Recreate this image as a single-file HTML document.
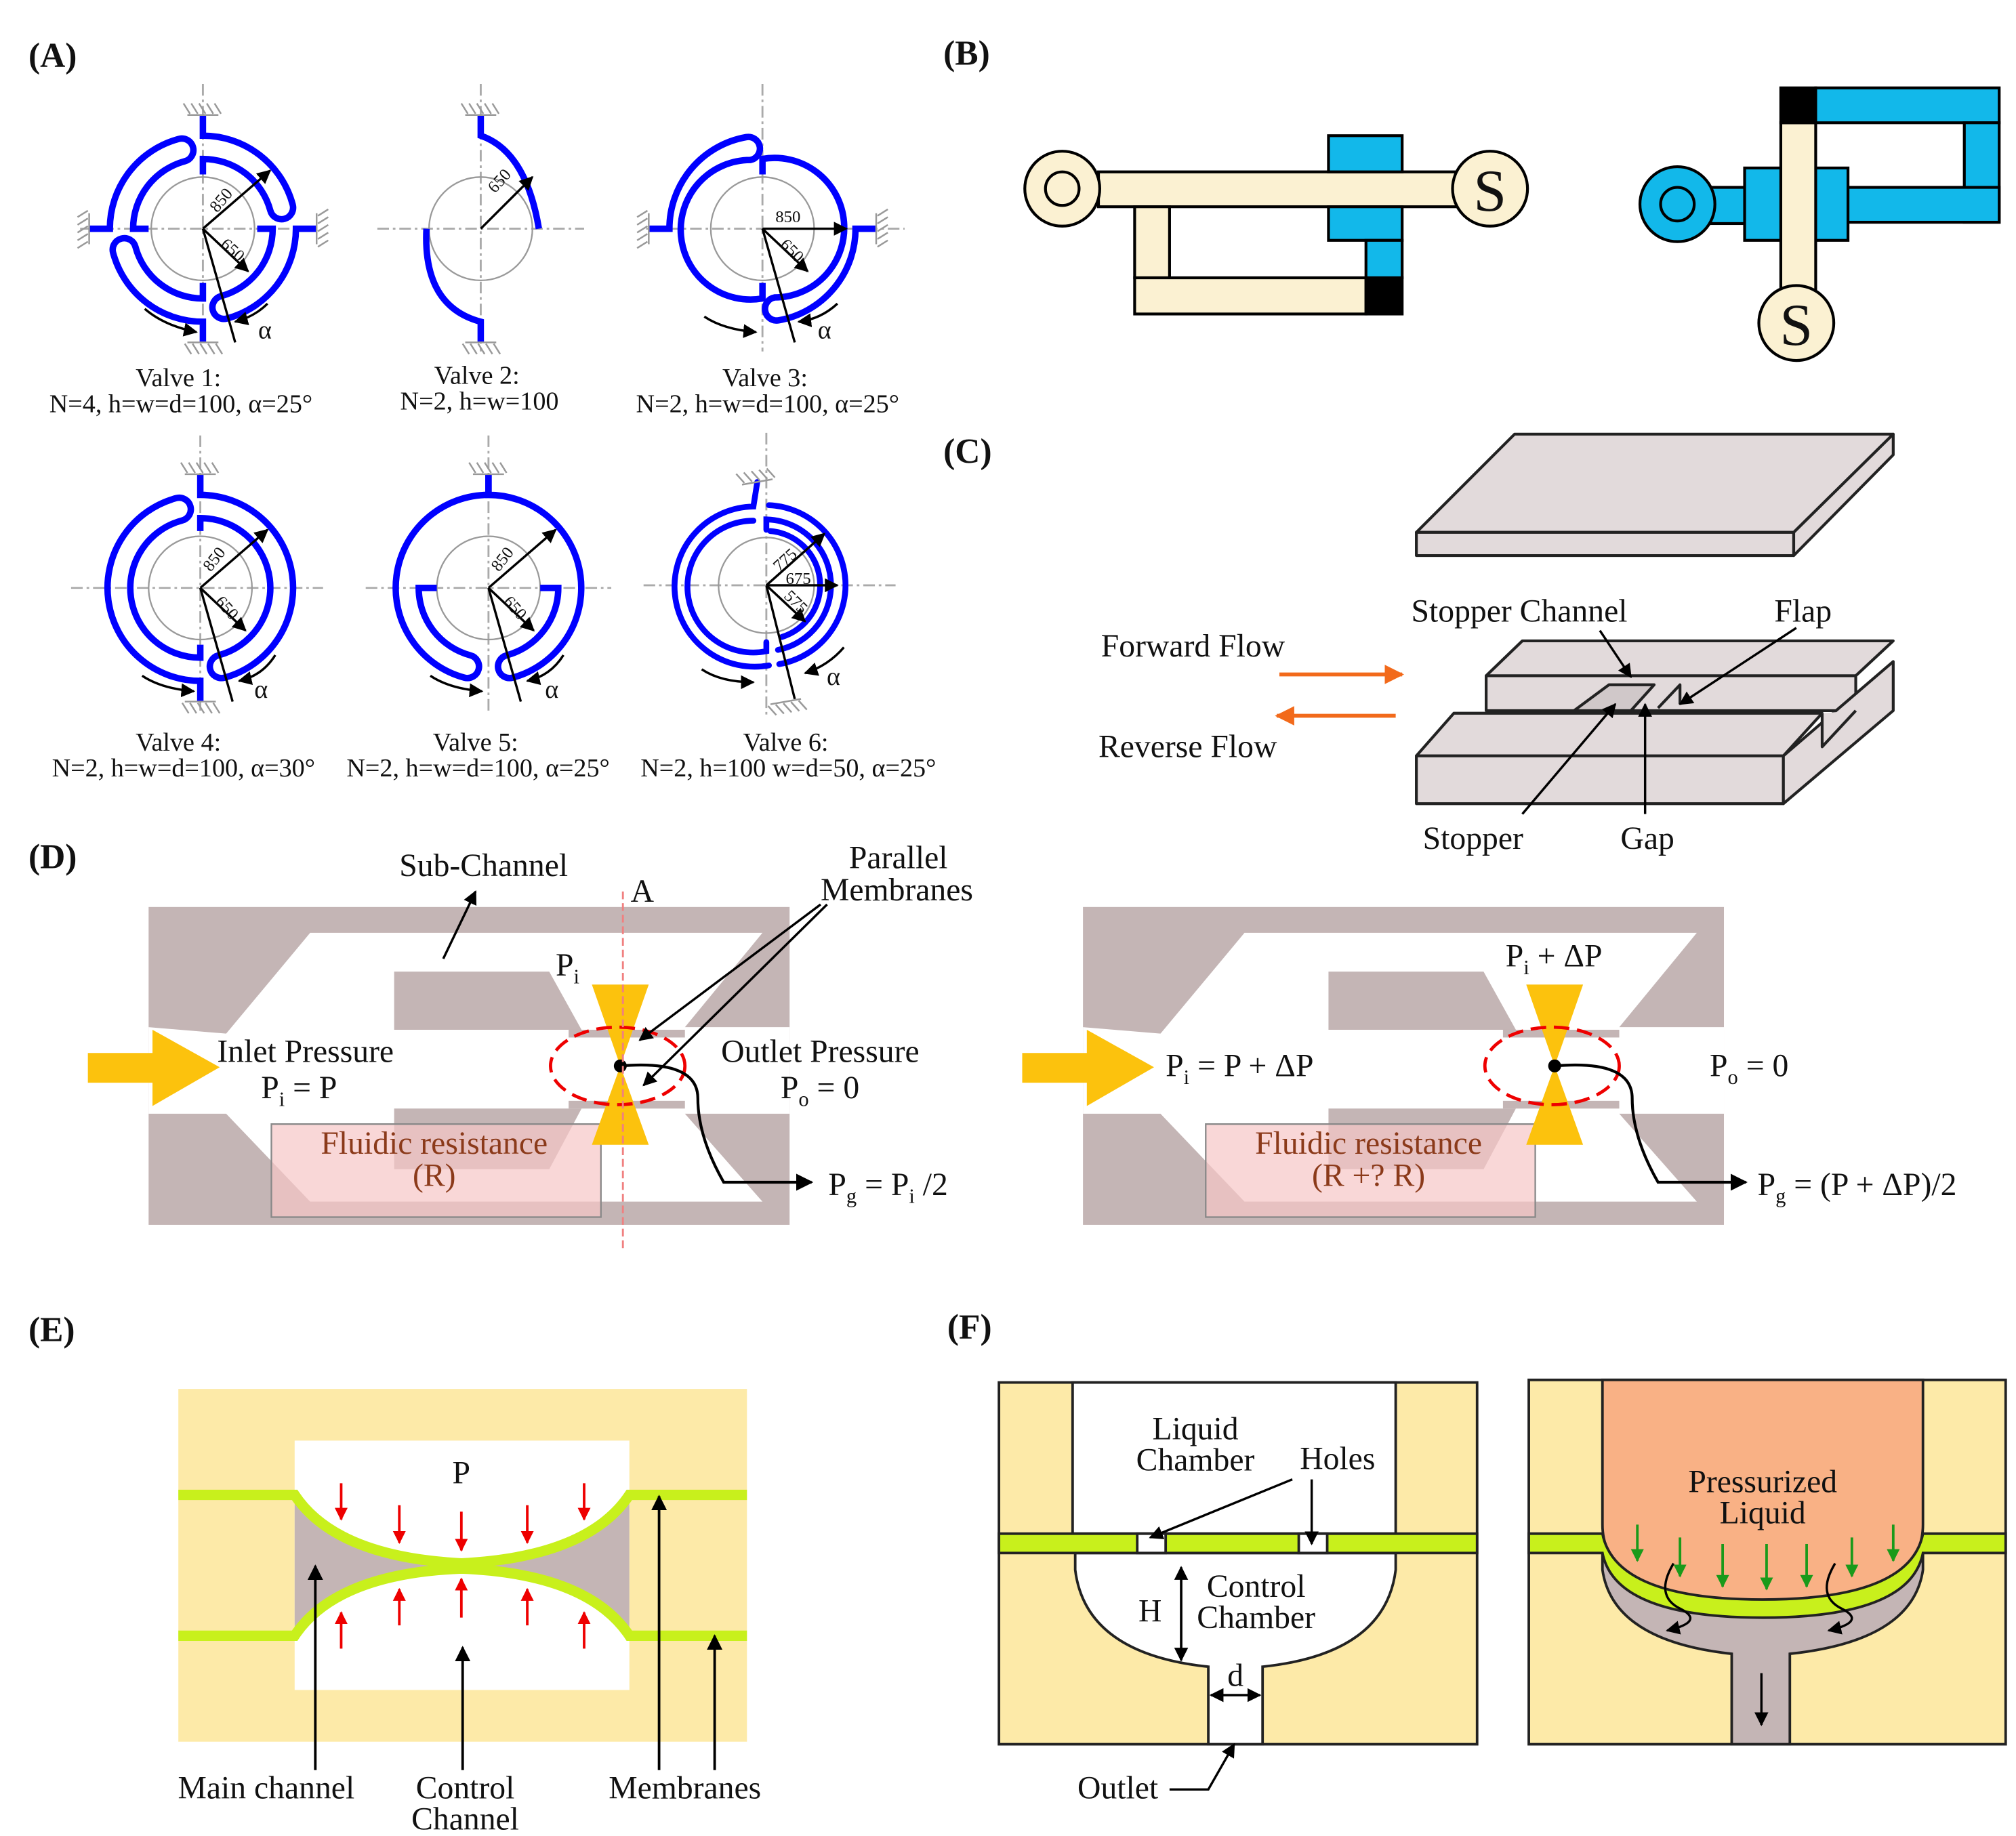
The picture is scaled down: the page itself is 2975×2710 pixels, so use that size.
<!DOCTYPE html>
<html><head><meta charset="utf-8"><style>
html,body{margin:0;padding:0;background:#fff}
svg{display:block}
text{font-family:"Liberation Serif",serif;fill:#111}
</style></head><body>
<svg width="2975" height="2710" viewBox="0 0 1560 1421" xmlns="http://www.w3.org/2000/svg">
<defs>
<marker id="ah" viewBox="0 0 10 10" refX="9" refY="5" markerWidth="6" markerHeight="6" orient="auto"><path d="M0,0L10,5L0,10z" fill="#000"/></marker>
<marker id="ahr" viewBox="0 0 10 10" refX="9" refY="5" markerWidth="5" markerHeight="5" orient="auto"><path d="M0,0L10,5L0,10z" fill="#e00"/></marker>
<marker id="ahg" viewBox="0 0 10 10" refX="9" refY="5" markerWidth="5" markerHeight="5" orient="auto"><path d="M0,0L10,5L0,10z" fill="#1a9a1a"/></marker>
<marker id="aho" viewBox="0 0 10 10" refX="9" refY="5" markerWidth="5" markerHeight="5" orient="auto"><path d="M0,0L10,5L0,10z" fill="#f26a1b"/></marker>
<g id="hatch" stroke="#999" stroke-width="1.3" fill="none"><path d="M-12,0H12M-10,-1l-5,-8M-4,-1l-5,-8M2,-1l-5,-8M8,-1l-5,-8M14,-1l-5,-8"/></g>
</defs>
<g font-size="27" font-weight="bold">
<text x="22" y="52">(A)</text><text x="730" y="50">(B)</text><text x="730" y="358">(C)</text>
<text x="22" y="672">(D)</text><text x="22" y="1038">(E)</text><text x="733" y="1036">(F)</text>
</g>

<!-- Panel A valves -->
<g fill="none">
<!-- Valve 1 -->
<g transform="translate(157,177)">
<path d="M-95,0H85M0,-112V88" stroke="#aaa" stroke-dasharray="9,3,2,3" stroke-width="1.5"/>
<circle r="40" stroke="#999" stroke-width="1.2"/>
<g stroke="#00f" stroke-width="5">
<g id="v1p"><path d="M0,-88V-72A72,72 0 0 1 69.5,-18.6A8.7,8.7 0 0 1 52.2,-14A54,54 0 0 0 0,-54V-42"/></g>
<use href="#v1p" transform="rotate(90)"/><use href="#v1p" transform="rotate(180)"/><use href="#v1p" transform="rotate(270)"/>
</g>
<use href="#hatch" transform="translate(0,-88)"/><use href="#hatch" transform="rotate(90) translate(0,-88)"/><use href="#hatch" transform="rotate(180) translate(0,-88)"/><use href="#hatch" transform="rotate(270) translate(0,-88)"/>
<g stroke="#000" stroke-width="1.8"><path d="M0,0L52,-45" marker-end="url(#ah)"/><path d="M0,0L35,33" marker-end="url(#ah)"/><path d="M0,0L25,88"/><path d="M-45,62Q-30,75 -5,80" marker-end="url(#ah)"/><path d="M50,58Q40,68 25,72" marker-end="url(#ah)"/></g>
</g>
<!-- Valve 2 -->
<g transform="translate(372,177)">
<path d="M-80,0H80M0,-112V95" stroke="#aaa" stroke-dasharray="9,3,2,3" stroke-width="1.5"/>
<circle r="40" stroke="#999" stroke-width="1.2"/>
<g stroke="#00f" stroke-width="5"><path d="M0,-88V-72Q35,-60 45,0"/><path d="M0,88V72Q-45,60 -42,0"/></g>
<use href="#hatch" transform="translate(0,-88)"/><use href="#hatch" transform="rotate(180) translate(0,-88)"/>
<path d="M0,0L40,-40" stroke="#000" stroke-width="1.8" marker-end="url(#ah)"/>
</g>
<!-- Valve 3 -->
<g transform="translate(590,177)">
<path d="M-90,0H110M0,-112V95" stroke="#aaa" stroke-dasharray="9,3,2,3" stroke-width="1.5"/>
<circle r="40" stroke="#999" stroke-width="1.2"/>
<g stroke="#00f" stroke-width="5">
<g id="v3p"><path d="M-88,0H-72A72,72 0 0 1 -12.5,-70.9A8.7,8.7 0 0 1 -9.4,-53.2A54,54 0 1 0 0,54V42"/></g>
<use href="#v3p" transform="rotate(180)"/>
</g>
<use href="#hatch" transform="rotate(-90) translate(0,-88)"/><use href="#hatch" transform="rotate(90) translate(0,-88)"/>
<g stroke="#000" stroke-width="1.8"><path d="M0,0H65" marker-end="url(#ah)"/><path d="M0,0L35,33" marker-end="url(#ah)"/><path d="M0,0L25,88"/><path d="M-45,68Q-30,78 -5,80" marker-end="url(#ah)"/><path d="M58,58Q45,70 28,72" marker-end="url(#ah)"/></g>
</g>
<!-- Valve 4 -->
<g transform="translate(155,455)">
<path d="M-100,0H95M0,-118V95" stroke="#aaa" stroke-dasharray="9,3,2,3" stroke-width="1.5"/>
<circle r="40" stroke="#999" stroke-width="1.2"/>
<g stroke="#00f" stroke-width="5"><g id="v4p"><path d="M0,-88V-72A72,72 0 0 1 18.6,69.5A8.7,8.7 0 0 1 14,52.2A54,54 0 0 0 0,-54V-44"/></g><use href="#v4p" transform="rotate(180)"/></g>
<use href="#hatch" transform="translate(0,-88)"/><use href="#hatch" transform="rotate(180) translate(0,-88)"/>
<g stroke="#000" stroke-width="1.8"><path d="M0,0L52,-45" marker-end="url(#ah)"/><path d="M0,0L35,33" marker-end="url(#ah)"/><path d="M0,0L25,88"/><path d="M-45,68Q-30,78 -5,80" marker-end="url(#ah)"/><path d="M58,52Q48,68 30,72" marker-end="url(#ah)"/></g>
</g>
<!-- Valve 5 -->
<g transform="translate(378,455)">
<path d="M-95,0H95M0,-118V95" stroke="#aaa" stroke-dasharray="9,3,2,3" stroke-width="1.5"/>
<circle r="40" stroke="#999" stroke-width="1.2"/>
<g stroke="#00f" stroke-width="5"><g id="v5p"><path d="M0,-88V-72A72,72 0 0 1 18.6,69.5A8.7,8.7 0 0 1 14,52.2A54,54 0 0 0 54,0H40"/></g><use href="#v5p" transform="scale(-1,1)"/></g>
<use href="#hatch" transform="translate(0,-88)"/>
<g stroke="#000" stroke-width="1.8"><path d="M0,0L52,-45" marker-end="url(#ah)"/><path d="M0,0L35,33" marker-end="url(#ah)"/><path d="M0,0L25,88"/><path d="M-45,68Q-30,78 -5,80" marker-end="url(#ah)"/><path d="M58,52Q48,68 30,72" marker-end="url(#ah)"/></g>
</g>
<!-- Valve 6 -->
<g transform="translate(593,453)">
<path d="M-95,0H100M0,-118V100" stroke="#aaa" stroke-dasharray="9,3,2,3" stroke-width="1.5"/>
<circle r="37" stroke="#999" stroke-width="1.2"/>
<g stroke="#00f" stroke-width="4.5" stroke-linecap="round"><path d="M-7,-80L-10,-61A62,62 0 1 0 2,62"/><path d="M-10,-50A51,51 0 1 0 0,51V44"/><path d="M2,-62A62,62 0 0 1 10,61"/><path d="M0,-43V-51A51,51 0 0 1 9,50"/><path d="M3,-42A42,42 0 0 1 12,40"/></g>
<use href="#hatch" transform="translate(-7,-80) rotate(-10)"/><use href="#hatch" transform="translate(15,90) rotate(170)"/>
<g stroke="#000" stroke-width="1.8"><path d="M0,0L45,-40" marker-end="url(#ah)"/><path d="M0,0H55" marker-end="url(#ah)"/><path d="M0,0L30,28" marker-end="url(#ah)"/><path d="M0,0L22,88"/><path d="M-50,65Q-35,75 -10,75" marker-end="url(#ah)"/><path d="M60,48Q48,62 30,68" marker-end="url(#ah)"/></g>
</g>
</g>
<g font-size="13">
<text transform="translate(168,165) rotate(-50)">850</text><text transform="translate(170,190) rotate(42)">650</text>
<text transform="translate(383,150) rotate(-48)">650</text>
<text x="600" y="172">850</text><text transform="translate(603,190) rotate(45)">650</text>
<text transform="translate(163,443) rotate(-52)">850</text><text transform="translate(166,466) rotate(48)">650</text>
<text transform="translate(386,443) rotate(-52)">850</text><text transform="translate(389,466) rotate(48)">650</text>
<text transform="translate(603,443) rotate(-42)">775</text><text x="608" y="452">675</text><text transform="translate(606,462) rotate(45)">575</text>
</g>
<g font-size="20" text-anchor="middle">
<text x="138" y="299">Valve 1:</text><text x="140" y="319">N=4, h=w=d=100, α=25°</text>
<text x="369" y="297">Valve 2:</text><text x="371" y="317">N=2, h=w=100</text>
<text x="592" y="299">Valve 3:</text><text x="594" y="319">N=2, h=w=d=100, α=25°</text>
<text x="138" y="581">Valve 4:</text><text x="142" y="601">N=2, h=w=d=100, α=30°</text>
<text x="368" y="581">Valve 5:</text><text x="370" y="601">N=2, h=w=d=100, α=25°</text>
<text x="608" y="581">Valve 6:</text><text x="610" y="601">N=2, h=100 w=d=50, α=25°</text>
<text x="205" y="262">α</text><text x="638" y="262">α</text><text x="202" y="540">α</text><text x="427" y="540">α</text><text x="645" y="530">α</text>
</g>

<!-- Panel B -->
<g stroke="#000" stroke-width="2.2">
<rect x="850" y="133" width="278" height="27" fill="#fbf1d2"/>
<rect x="878" y="160" width="27" height="55" fill="#fbf1d2"/>
<rect x="878" y="215" width="179" height="28" fill="#fbf1d2"/>
<rect x="1028" y="105" width="57" height="28" fill="#12b8ea"/>
<rect x="1028" y="160" width="57" height="26" fill="#12b8ea"/>
<rect x="1057" y="186" width="28" height="29" fill="#12b8ea"/>
<rect x="1057" y="215" width="28" height="28" fill="#000"/>
<circle cx="822" cy="146" r="29" fill="#fbf1d2"/><circle cx="822" cy="146" r="13" fill="#fbf1d2"/>
<circle cx="1153" cy="146" r="29" fill="#fbf1d2"/>
<rect x="1318" y="145" width="34" height="28" fill="#12b8ea"/>
<circle cx="1298" cy="158" r="29" fill="#12b8ea"/><circle cx="1298" cy="158" r="13" fill="#12b8ea"/>
<rect x="1350" y="130" width="80" height="56" fill="#12b8ea"/>
<rect x="1405" y="68" width="142" height="27" fill="#12b8ea"/>
<rect x="1520" y="95" width="27" height="77" fill="#12b8ea"/>
<rect x="1430" y="145" width="117" height="27" fill="#12b8ea"/>
<rect x="1378" y="95" width="27" height="130" fill="#fbf1d2"/>
<rect x="1378" y="68" width="27" height="27" fill="#000"/>
<circle cx="1390" cy="250" r="29" fill="#fbf1d2"/>
</g>
<text x="1153" y="163" font-size="46" text-anchor="middle" font-family="Liberation Sans">S</text>
<text x="1390" y="267" font-size="46" text-anchor="middle" font-family="Liberation Sans">S</text>

<!-- Panel C -->
<g stroke="#222" stroke-width="2.2" fill="#e2dadb" stroke-linejoin="round">
<path d="M1096,412L1172,336H1465L1388,412Z"/>
<path d="M1096,412H1388V430H1096Z"/>
<path d="M1388,412L1465,336V352L1388,430Z"/>
<path d="M1150,523L1178,496H1465L1436,523Z"/>
<path d="M1150,523H1436V550H1150Z"/>
<path d="M1096,585L1125,552H1410L1380,585Z"/>
<path d="M1096,585H1380V622H1096Z"/>
<path d="M1380,585L1465,512V550L1380,622Z"/>
<path d="M1410,552V578L1436,550"/>
<path d="M1218,550L1245,530H1280L1262,550Z" fill="#d0c8c9"/>
<path d="M1283,548L1300,530V545" fill="none"/>
</g>
<g font-size="25">
<text x="1092" y="481">Stopper Channel</text><text x="1373" y="481">Flap</text>
<text x="852" y="508">Forward Flow</text><text x="850" y="586">Reverse Flow</text>
<text x="1101" y="657">Stopper</text><text x="1254" y="657">Gap</text>
</g>
<g stroke="#000" stroke-width="1.8">
<path d="M1238,488L1262,524" marker-end="url(#ah)"/>
<path d="M1390,486L1300,545" marker-end="url(#ah)"/>
<path d="M1178,630L1250,545" marker-end="url(#ah)"/>
<path d="M1273,630V545" marker-end="url(#ah)"/>
</g>
<g stroke="#f26a1b" stroke-width="3"><path d="M990,522H1085" marker-end="url(#aho)"/><path d="M1080,554H988" marker-end="url(#aho)"/></g>

<!-- Panel D -->
<g id="dpanel">
<rect x="115" y="702" width="496" height="246" fill="#c4b5b5"/>
<path d="M175,800L240,722H590L530,795H611V862H530L590,930H240L175,862H115V795Z" fill="#fff"/>
<path d="M305,752H425L450,797H305Z" fill="#c4b5b5"/>
<path d="M305,858H450L425,905H305Z" fill="#c4b5b5"/>
<rect x="440" y="797" width="90" height="6" fill="#c4b5b5"/>
<rect x="440" y="852" width="90" height="6" fill="#c4b5b5"/>
<rect x="210" y="870" width="255" height="72" fill="#f6c6c6" fill-opacity="0.7" stroke="#888" stroke-width="1.2"/>
<path d="M458,762H502L480,825Z M458,886H502L480,825Z" fill="#fcc20d"/>
<ellipse cx="478" cy="825" rx="52" ry="30" fill="none" stroke="#e00" stroke-width="2.5" stroke-dasharray="12,6"/>
<circle cx="480" cy="825" r="5" fill="#000"/>
<path d="M68,815H118V797L170,826L118,856V838H68Z" fill="#fcc20d"/>
<path d="M480,825Q540,820 540,850T560,915H628" fill="none" stroke="#000" stroke-width="2.2" marker-end="url(#ah)"/>
</g>
<path d="M482,690V968" stroke="#f08080" stroke-width="1.5" stroke-dasharray="6,3"/>
<use href="#dpanel" transform="translate(723,0)"/>
<g font-size="25">
<text x="309" y="678">Sub-Channel</text><text x="488" y="698">A</text>
<text x="657" y="672">Parallel</text><text x="635" y="697">Membranes</text>
<text x="430" y="755">P<tspan font-size="16" dy="6">i</tspan></text>
<text x="168" y="822">Inlet Pressure</text><text x="202" y="850">P<tspan font-size="16" dy="6">i</tspan><tspan dy="-6"> = P</tspan></text>
<text x="558" y="822">Outlet Pressure</text><text x="604" y="850">P<tspan font-size="16" dy="6">o</tspan><tspan dy="-6"> = 0</tspan></text>
<text x="641" y="925">P<tspan font-size="16" dy="6">g</tspan><tspan dy="-6"> = P</tspan><tspan font-size="16" dy="6">i</tspan><tspan dy="-6"> /2</tspan></text>
<text x="1165" y="748">P<tspan font-size="16" dy="6">i</tspan><tspan dy="-6"> + ΔP</tspan></text>
<text x="902" y="833">P<tspan font-size="16" dy="6">i</tspan><tspan dy="-6"> = P + ΔP</tspan></text>
<text x="1323" y="833">P<tspan font-size="16" dy="6">o</tspan><tspan dy="-6"> = 0</tspan></text>
<text x="1360" y="925">P<tspan font-size="16" dy="6">g</tspan><tspan dy="-6"> = (P + ΔP)/2</tspan></text>
</g>
<g font-size="25" text-anchor="middle">
<text x="336" y="893" style="fill:#8b3a1a">Fluidic resistance</text><text x="336" y="918" style="fill:#8b3a1a">(R)</text>
<text x="1059" y="893" style="fill:#8b3a1a">Fluidic resistance</text><text x="1059" y="918" style="fill:#8b3a1a">(R +? R)</text>
</g>
<g stroke="#000" stroke-width="1.8">
<path d="M343,742L368,690" marker-end="url(#ah)"/>
<path d="M635,700L495,805" marker-end="url(#ah)"/>
<path d="M640,700L498,840" marker-end="url(#ah)"/>
</g>

<!-- Panel E -->
<rect x="138" y="1075" width="440" height="273" fill="#fdeaa8"/>
<rect x="228" y="1115" width="259" height="193" fill="#fff"/>
<path d="M228,1157Q260,1205 357,1210Q455,1205 487,1157V1266Q455,1218 357,1214Q260,1218 228,1266Z" fill="#c4b5b5"/>
<g fill="none" stroke="#c8f01c" stroke-width="8">
<path d="M138,1157H228Q260,1205 357,1210Q455,1205 487,1157H578"/>
<path d="M138,1266H228Q260,1218 357,1214Q455,1218 487,1266H578"/>
</g>
<g stroke="#e00" stroke-width="2">
<path d="M264,1148V1176" marker-end="url(#ahr)"/><path d="M309,1165V1194" marker-end="url(#ahr)"/><path d="M357,1170V1200" marker-end="url(#ahr)"/><path d="M408,1165V1194" marker-end="url(#ahr)"/><path d="M452,1148V1176" marker-end="url(#ahr)"/>
<path d="M264,1276V1248" marker-end="url(#ahr)"/><path d="M309,1258V1230" marker-end="url(#ahr)"/><path d="M357,1252V1222" marker-end="url(#ahr)"/><path d="M408,1258V1230" marker-end="url(#ahr)"/><path d="M452,1276V1248" marker-end="url(#ahr)"/>
</g>
<g stroke="#000" stroke-width="2">
<path d="M244,1370V1212" marker-end="url(#ah)"/><path d="M358,1370V1275" marker-end="url(#ah)"/>
<path d="M510,1370V1158" marker-end="url(#ah)"/><path d="M553,1370V1266" marker-end="url(#ah)"/>
</g>
<g font-size="25" text-anchor="middle">
<text x="357" y="1148">P</text>
<text x="206" y="1392">Main channel</text><text x="360" y="1392">Control</text><text x="360" y="1416">Channel</text><text x="530" y="1392">Membranes</text>
</g>

<!-- Panel F -->
<g stroke="#222" stroke-width="2">
<rect x="773" y="1070" width="370" height="280" fill="#fdeaa8"/>
<rect x="830" y="1070" width="250" height="117" fill="#fff"/>
<path d="M832,1202V1215Q840,1280 935,1290V1350H977V1290Q1072,1280 1080,1215V1202Z" fill="#fff"/>
<rect x="773" y="1187" width="370" height="15" fill="#c8f01c"/>
<rect x="880" y="1187" width="22" height="15" fill="#fff"/><rect x="1005" y="1187" width="22" height="15" fill="#fff"/>
<rect x="1183" y="1068" width="369" height="282" fill="#fdeaa8"/>
<path d="M1240,1202V1215Q1248,1270 1340,1280V1350H1385V1280Q1480,1270 1488,1215V1202Z" fill="#c4b5b5"/>
<path d="M1240,1068H1488V1180Q1488,1240 1364,1240Q1240,1240 1240,1180Z" fill="#f9b185"/>
<path d="M1183,1187H1240Q1250,1238 1364,1238Q1478,1238 1488,1187H1552V1202H1488Q1478,1252 1364,1252Q1250,1252 1240,1202H1183Z" fill="#c8f01c"/>
</g>
<g stroke="#000" stroke-width="1.8">
<path d="M1000,1145L890,1190" marker-end="url(#ah)"/><path d="M1015,1145V1195" marker-end="url(#ah)"/>
<path d="M914,1215V1285" marker-end="url(#ah)"/><path d="M914,1285V1213" marker-end="url(#ah)"/>
<path d="M937,1312H975" marker-end="url(#ah)"/><path d="M975,1312H937" marker-end="url(#ah)"/>
<path d="M905,1385H935L955,1350" fill="none" marker-end="url(#ah)"/>
<path d="M1363,1295V1335" marker-end="url(#ah)"/>
<path d="M1295,1210Q1280,1235 1300,1245T1290,1262" fill="none" marker-end="url(#ah)"/>
<path d="M1420,1210Q1405,1235 1425,1245T1415,1262" fill="none" marker-end="url(#ah)"/>
</g>
<g stroke="#1a9a1a" stroke-width="2">
<path d="M1267,1180V1208" marker-end="url(#ahg)"/><path d="M1300,1190V1220" marker-end="url(#ahg)"/><path d="M1333,1195V1228" marker-end="url(#ahg)"/><path d="M1367,1195V1230" marker-end="url(#ahg)"/><path d="M1398,1195V1228" marker-end="url(#ahg)"/><path d="M1433,1190V1220" marker-end="url(#ahg)"/><path d="M1465,1180V1208" marker-end="url(#ahg)"/>
</g>
<g font-size="25" text-anchor="middle">
<text x="925" y="1114">Liquid</text><text x="925" y="1138">Chamber</text><text x="1035" y="1137">Holes</text>
<text x="972" y="1236">Control</text><text x="972" y="1260">Chamber</text><text x="890" y="1255">H</text><text x="956" y="1305">d</text>
<text x="865" y="1392">Outlet</text>
<text x="1364" y="1155">Pressurized</text><text x="1364" y="1179">Liquid</text>
</g>
</svg>
</body></html>
